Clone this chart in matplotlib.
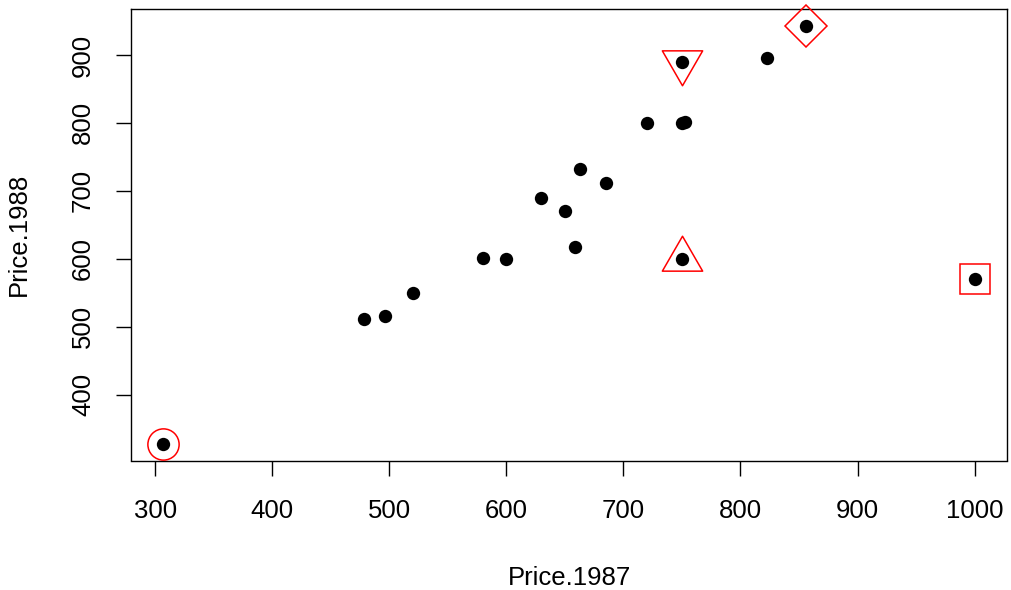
import numpy as np
import matplotlib
matplotlib.use("Agg")
import matplotlib.pyplot as plt
from matplotlib.path import Path

plt.rcParams['font.family'] = ['Liberation Sans', 'DejaVu Sans']

# Data: Price.1987 vs Price.1988
price_1987 = [307, 478, 496, 520, 580, 600, 630, 650, 659, 663, 685, 720, 750, 753, 750, 750, 823, 856, 1000]
price_1988 = [328, 511, 516, 550, 602, 600, 690, 670, 617, 732, 711, 800, 800, 801, 890, 600, 895, 943, 570]

# Highlighted (identified) points and their marker shapes
hl_x = [307, 750, 750, 856, 1000]
hl_y = [328, 600, 890, 943, 570]
hl_shape = ['circle', 'tri_up', 'tri_down', 'diamond', 'square']

x_ticks = [300, 400, 500, 600, 700, 800, 900, 1000]
y_ticks = [400, 500, 600, 700, 800, 900]

W, H = 1011, 590
fig = plt.figure(figsize=(W / 100, H / 100), dpi=100)
ax = fig.add_axes([131 / W, 1 - 460.5 / H, (1007 - 131) / W, (460.5 - 9) / H])

def r_range(v):
    lo, hi = min(v), max(v)
    d = (hi - lo) * 0.04
    return lo - d, hi + d

ax.set_xlim(*r_range(price_1987))
ax.set_ylim(*r_range(price_1988))

ax.plot(price_1987, price_1988, linestyle='none', marker='o', markersize=9.6,
        color='black', markeredgewidth=0, zorder=3)

tri_up = Path([(0, 0.577), (-0.5, -0.289), (0.5, -0.289), (0, 0.577)], closed=True)
tri_down = Path([(0, -0.577), (-0.5, 0.289), (0.5, 0.289), (0, -0.577)], closed=True)
shape_map = {
    'circle': ('o', 22.5),
    'tri_up': (tri_up, 33.5),
    'tri_down': (tri_down, 33.5),
    'diamond': ('D', 21.0),
    'square': ('s', 22.0),
}
for x, y, s in zip(hl_x, hl_y, hl_shape):
    m, ms = shape_map[s]
    ax.plot([x], [y], linestyle='none', marker=m, markersize=ms,
            markerfacecolor='none', markeredgecolor='#FF0000',
            markeredgewidth=1.1, zorder=4, clip_on=False)

ax.set_xticks(x_ticks)
ax.set_yticks(y_ticks)
ax.tick_params(axis='both', direction='out', length=11, width=1.0,
               labelsize=18.5, color='black')
ax.tick_params(axis='x', pad=16.5)
ax.tick_params(axis='y', pad=15)
for lab in ax.get_yticklabels():
    lab.set_rotation(90)
    lab.set_va('center')

for sp in ax.spines.values():
    sp.set_linewidth(1.0)
    sp.set_color('black')

ax.set_xlabel('Price.1987', fontsize=18.5, labelpad=31.5)
ax.set_ylabel('Price.1988', fontsize=18.5, labelpad=28.5)

fig.savefig('out.png', dpi=100)
